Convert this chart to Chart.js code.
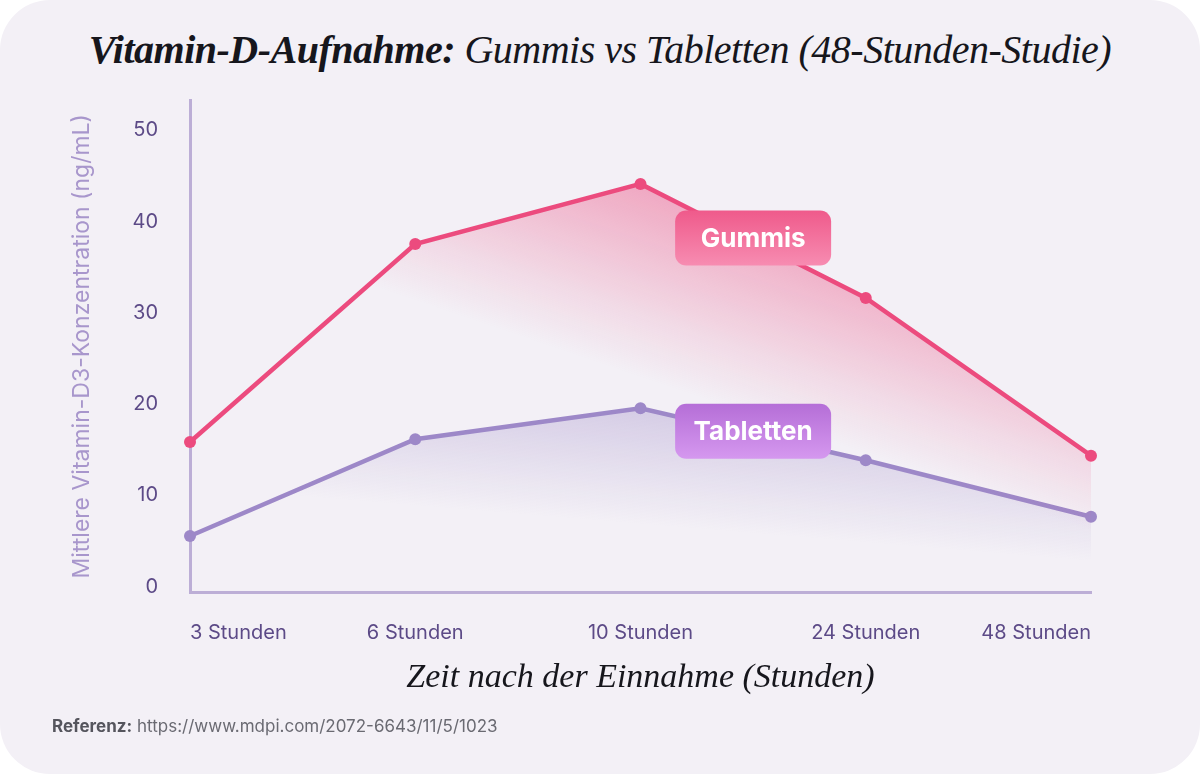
<!DOCTYPE html>
<html lang="de">
<head>
<meta charset="utf-8">
<script src="https://cdn.jsdelivr.net/npm/chart.js@4.4.1/dist/chart.umd.min.js"></script>
<style>
  html, body { margin: 0; padding: 0; background: #ffffff; }
  #card {
    position: relative; width: 1200px; height: 774px;
    background: #f3f0f6; border-radius: 50px; overflow: hidden;
  }
  #title {
    position: absolute; left: 0; top: 26px; width: 1200px; text-align: center;
    font-family: "Liberation Serif", "Times New Roman", serif; font-style: italic;
    font-size: 40px; color: #16161c; white-space: nowrap; letter-spacing: -0.5px;
  }
  #title b { font-weight: 700; }
  #footer {
    position: absolute; left: 52px; top: 716px;
    font-family: "Inter", "Noto Sans", sans-serif; font-size: 17px; color: #6a6a72;
  }
  #footer b { color: #55555d; font-weight: 700; }
  #wrap { position: absolute; left: 0; top: 0; width: 1200px; height: 774px; }
</style>
</head>
<body>
<div id="card">
  <div id="title"><b>Vitamin-D-Aufnahme:</b> Gummis vs Tabletten (48-Stunden-Studie)</div>
  <div id="wrap"><canvas id="c" width="1200" height="774"></canvas></div>
  <div id="footer"><b>Referenz:</b> https://www.mdpi.com/2072-6643/11/5/1023</div>
</div>
<script>
const categories = ["3 Stunden", "6 Stunden", "10 Stunden", "24 Stunden", "48 Stunden"];
const gummisValues = [16.5, 38.2, 44.8, 32.3, 15.0];
const tablettenValues = [6.2, 16.8, 20.2, 14.5, 8.3];
const seriesNames = ["Gummis", "Tabletten"];
const yTicks = [0, 10, 20, 30, 40, 50];
const yTitle = "Mittlere Vitamin-D3-Konzentration (ng/mL)";
const xTitle = "Zeit nach der Einnahme (Stunden)";

function diagGradient(ctx, area, p0, p1, stops) {
  const w = area.right - area.left, h = area.bottom - area.top;
  const g = ctx.createLinearGradient(area.left + p0[0] * w, area.top + p0[1] * h,
                                     area.left + p1[0] * w, area.top + p1[1] * h);
  stops.forEach(s => g.addColorStop(s[0], s[1]));
  return g;
}

const pinkFill = (c) => {
  const a = c.chart.chartArea;
  if (!a) return 'rgba(236,77,128,0.3)';
  return diagGradient(c.chart.ctx, a, [0.446, 0.53], [0.513, 0.17], [
    [0, 'rgba(236,77,128,0)'], [0.3, 'rgba(236,77,128,0.12)'], [1, 'rgba(236,77,128,0.45)']]);
};
const purpleFill = (c) => {
  const a = c.chart.chartArea;
  if (!a) return 'rgba(150,130,195,0.2)';
  return diagGradient(c.chart.ctx, a, [0.5105, 0.863], [0.5205, 0.64], [
    [0, 'rgba(150,128,195,0)'], [0.35, 'rgba(150,128,195,0.1)'], [1, 'rgba(150,128,195,0.3)']]);
};

const labelBoxes = {
  id: 'labelBoxes',
  afterDatasetsDraw(chart) {
    const ctx = chart.ctx;
    const styles = [
      ['#ef5a8b', '#f78cb1'],
      ['#b56ed7', '#d598ef']
    ];
    chart.data.datasets.forEach((ds, i) => {
      const pts = chart.getDatasetMeta(i).data;
      const cx = (pts[2].x + pts[3].x) / 2;
      const cy = (pts[2].y + pts[3].y) / 2 - 3;
      const w = 156, h = 55, r = 11;
      const g = ctx.createLinearGradient(0, cy - h / 2, 0, cy + h / 2);
      g.addColorStop(0, styles[i][0]); g.addColorStop(1, styles[i][1]);
      ctx.save();
      ctx.beginPath();
      ctx.roundRect(cx - w / 2, cy - h / 2, w, h, r);
      ctx.fillStyle = g;
      ctx.fill();
      ctx.fillStyle = '#ffffff';
      ctx.font = '700 26px Inter, "Noto Sans", sans-serif';
      ctx.textAlign = 'center';
      ctx.textBaseline = 'middle';
      ctx.fillText(ds.label, cx, cy + 1);
      ctx.restore();
    });
  }
};

new Chart(document.getElementById('c'), {
  type: 'line',
  data: {
    labels: categories,
    datasets: [
      {
        label: seriesNames[0], data: gummisValues,
        borderColor: '#ec4b7e', backgroundColor: pinkFill, fill: 'origin',
        borderWidth: 4.5, pointRadius: 6, pointHoverRadius: 6,
        pointBackgroundColor: '#ec4b7e', pointBorderWidth: 0, tension: 0
      },
      {
        label: seriesNames[1], data: tablettenValues,
        borderColor: '#9d88c8', backgroundColor: purpleFill, fill: 'origin',
        borderWidth: 4.5, pointRadius: 6, pointHoverRadius: 6,
        pointBackgroundColor: '#9d88c8', pointBorderWidth: 0, tension: 0
      }
    ]
  },
  options: {
    responsive: false, animation: false,
    layout: { padding: { top: 100, right: 109, left: 0, bottom: 0 } },
    plugins: { legend: { display: false }, tooltip: { enabled: false }, title: { display: false } },
    scales: {
      x: {
        offset: false,
        grid: { display: false },
        border: { display: true, color: '#bcaed6', width: 3 },
        ticks: { color: '#5c4a87', font: { family: 'Inter, "Noto Sans", sans-serif', size: 20 }, padding: 20, align: 'inner', maxRotation: 0 },
        title: { display: true, text: xTitle, color: '#16161c',
          font: { family: '"Liberation Serif", serif', style: 'italic', size: 34 }, padding: { top: 0, bottom: 76 } },
        afterFit(s) { s.height = 774 - 592.5; }
      },
      y: {
        min: 0, max: 54,
        grid: { display: false },
        border: { display: true, color: '#bcaed6', width: 3 },
        afterBuildTicks(s) { s.ticks = yTicks.map(v => ({ value: v })); },
        ticks: { color: '#5c4a87', font: { family: 'Inter, "Noto Sans", sans-serif', size: 20 }, padding: 24, labelOffset: -6 },
        title: { display: true, text: yTitle, color: '#a896cc',
          font: { family: 'Inter, "Noto Sans", sans-serif', size: 23 }, padding: { top: 68, bottom: 0 } },
        afterFit(s) { s.width = 190; }
      }
    }
  },
  plugins: [labelBoxes]
});
</script>
</body>
</html>
